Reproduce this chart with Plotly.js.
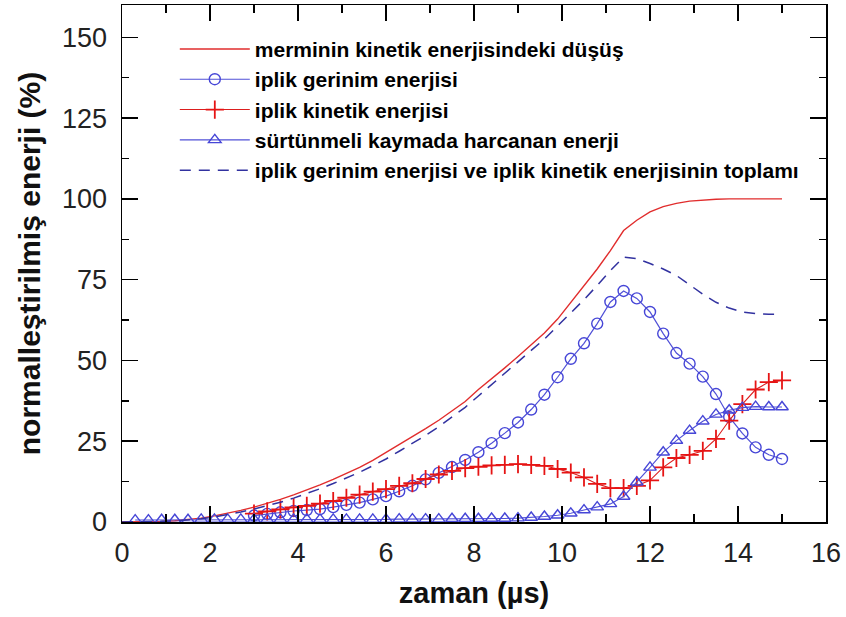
<!DOCTYPE html>
<html>
<head>
<meta charset="utf-8">
<script src="https://cdn.plot.ly/plotly-3.0.1.min.js"></script>
<style>
  html, body { margin: 0; padding: 0; background: #fff; }
  #chart { width: 846px; height: 617px; }
</style>
</head>
<body>
<div id="chart"></div>
<script>
// time samples (µs)
const tGrid = [0, 0.3, 0.6, 0.9, 1.2, 1.5, 1.8, 2.1, 2.4, 2.7,
               3.0, 3.3, 3.6, 3.9, 4.2, 4.5, 4.8, 5.1, 5.4, 5.7,
               6.0, 6.3, 6.6, 6.9, 7.2, 7.5, 7.8, 8.1, 8.4, 8.7,
               9.0, 9.3, 9.6, 9.9, 10.2, 10.5, 10.8, 11.1, 11.4, 11.7,
               12.0, 12.3, 12.6, 12.9, 13.2, 13.5, 13.8, 14.1, 14.4, 14.7,
               15.0];

// drop in projectile kinetic energy (%), on tGrid
const mermiKinetikDusus = [0, 0, 0.1, 0.2, 0.4, 0.7, 1.2, 1.9, 2.7, 3.6,
                           4.6, 5.7, 7.0, 8.4, 9.9, 11.5, 13.2, 15.0, 16.9, 19.1,
                           21.5, 24.0, 26.4, 28.9, 31.5, 34.3, 37.3, 41.0, 44.3, 47.7,
                           51.2, 54.8, 58.5, 62.8, 68.0, 73.0, 78.3, 84.0, 90.2, 93.4,
                           96.0, 97.6, 98.6, 99.3, 99.7, 99.9, 100, 100, 100, 100,
                           100];

// strain + kinetic energy of the yarns (%), on tGrid
const toplamEnerji = [0, 0, 0.1, 0.2, 0.3, 0.6, 1.0, 1.6, 2.3, 3.1,
                      4.0, 5.0, 6.1, 7.4, 8.8, 10.3, 11.9, 13.6, 15.4, 17.4,
                      19.5, 21.9, 24.3, 26.8, 29.5, 32.4, 35.5, 39.0, 42.6, 46.1,
                      49.6, 53.1, 56.6, 60.6, 64.6, 68.8, 73.2, 77.8, 82.0, 81.5,
                      80.0, 78.3, 76.3, 73.3, 70.5, 68.0, 66.2, 65.0, 64.5, 64.3,
                      64.3];

// yarn strain energy (%), from t = 3.0 µs
const gerinimEnerji = [2.0, 2.5, 3.0, 3.4, 3.7, 4.0, 4.6, 5.3, 6.0, 7.0,
                       8.0, 9.5, 11.2, 13.2, 15.2, 17.0, 19.2, 21.6, 24.4, 27.5,
                       30.8, 34.8, 39.4, 44.8, 50.5, 55.3, 61.4, 68.1, 71.5, 69.2,
                       65.0, 58.3, 52.3, 49.0, 45.0, 39.6, 32.5, 27.4, 23.1, 20.8,
                       19.5];

// yarn kinetic energy (%), from t = 3.0 µs
const kinetikEnerji = [2.6, 3.3, 3.9, 4.5, 5.0, 5.7, 6.5, 7.5, 8.5, 9.4,
                       10.2, 11.2, 12.0, 13.3, 14.7, 15.8, 16.7, 17.1, 17.5, 17.7,
                       17.9, 17.7, 17.4, 16.4, 15.3, 13.8, 11.8, 10.5, 10.5, 11.2,
                       12.9, 16.9, 19.8, 20.8, 22.0, 25.7, 31.4, 36.5, 41.0, 43.3,
                       43.8];

// energy dissipated by frictional sliding (%), from t = 0.3 µs
const surtunmeEnerji = [0.6, 0.6, 0.7, 0.7, 0.7, 0.8, 0.8, 0.8, 0.8, 0.8,
                        0.8, 0.8, 0.8, 0.8, 0.8, 0.8, 0.8, 0.8, 0.8, 0.8,
                        0.9, 0.9, 0.9, 0.9, 1.0, 1.0, 1.0, 1.1, 1.1, 1.2,
                        1.4, 1.7, 2.1, 2.7, 3.7, 4.6, 5.6, 7.9, 12.3, 16.9,
                        21.6, 25.2, 28.3, 31.2, 33.3, 34.6, 35.4, 35.7, 35.6, 35.6];

const seriesNames = [
  'merminin kinetik enerjisindeki düşüş',
  'iplik gerinim enerjisi',
  'iplik kinetik enerjisi',
  'sürtünmeli kaymada harcanan enerji',
  'iplik gerinim enerjisi ve iplik kinetik enerjisinin toplamı'
];

const tLate = tGrid.slice(10);
const tSlide = tGrid.slice(1);

const traces = [
  {
    x: tGrid, y: mermiKinetikDusus, name: seriesNames[0], legendgroup: 'g1',
    mode: 'lines', line: { color: 'rgb(225,45,45)', width: 1.4 }
  },
  {
    x: tLate, y: gerinimEnerji, name: seriesNames[1], legendgroup: 'g2',
    mode: 'lines+markers', cliponaxis: false,
    line: { color: 'rgb(80,80,215)', width: 1.2 },
    marker: { symbol: 'circle-open', size: 11, color: 'rgb(70,70,215)', line: { width: 1.4 } }
  },
  {
    x: tLate, y: kinetikEnerji, name: seriesNames[2], legendgroup: 'g3',
    mode: 'lines+markers', cliponaxis: false,
    line: { color: 'rgb(220,30,30)', width: 1.1 },
    marker: { symbol: 'cross-thin-open', size: 13, color: 'rgb(230,20,20)', line: { width: 1.8, color: 'rgb(230,20,20)' } }
  },
  {
    x: tSlide, y: surtunmeEnerji, name: seriesNames[3], legendgroup: 'g4',
    mode: 'lines+markers', cliponaxis: false,
    line: { color: 'rgb(80,80,215)', width: 1.1 },
    marker: { symbol: 'triangle-up-open', size: 11, color: 'rgb(70,70,215)', line: { width: 1.4 } }
  },
  {
    x: tGrid, y: toplamEnerji, name: seriesNames[4], legendgroup: 'g5',
    mode: 'lines', line: { color: 'rgb(50,50,160)', width: 1.5, dash: '11px,8px' }
  }
];

const tickFont = { family: 'Liberation Sans, Arial, sans-serif', size: 27, color: '#222' };
const xTitleFont = { family: 'Liberation Sans, Arial, sans-serif', size: 29, color: '#111', weight: 'bold' };
const yTitleFont = { family: 'Liberation Sans, Arial, sans-serif', size: 30, color: '#111', weight: 'bold' };

const layout = {
  width: 846, height: 617,
  margin: { l: 122, r: 20, t: 5, b: 95 },
  paper_bgcolor: '#fff', plot_bgcolor: '#fff',
  showlegend: true,
  legend: {
    x: 0.075, y: 0.954, xanchor: 'left', yanchor: 'top',
    bgcolor: 'rgba(0,0,0,0)', borderwidth: 0,
    traceorder: 'grouped', tracegroupgap: 0, itemwidth: 70,
    font: { family: 'Liberation Sans, Arial, sans-serif', size: 21, color: '#000', weight: 'bold' }
  },
  xaxis: {
    range: [0, 16], tick0: 0, dtick: 2,
    ticks: 'inside', ticklen: 16, tickwidth: 1.5, tickcolor: '#000',
    showline: true, linecolor: '#000', linewidth: 1.5, mirror: 'ticks',
    showgrid: false, zeroline: false,
    minor: { dtick: 1, ticks: 'inside', ticklen: 8, tickwidth: 1.5, tickcolor: '#000', showgrid: false },
    tickfont: tickFont, ticklabelstandoff: 6,
    title: { text: 'zaman (µs)', font: xTitleFont, standoff: 16 }
  },
  yaxis: {
    range: [0, 160], tick0: 0, dtick: 25,
    ticks: 'inside', ticklen: 16, tickwidth: 1.5, tickcolor: '#000',
    showline: true, linecolor: '#000', linewidth: 1.5, mirror: 'ticks',
    showgrid: false, zeroline: false,
    minor: { dtick: 12.5, ticks: 'inside', ticklen: 7, tickwidth: 1.5, tickcolor: '#000', showgrid: false },
    tickfont: tickFont, ticklabelstandoff: 8,
    title: { text: 'normalleştirilmiş enerji (%)', font: yTitleFont, standoff: 12 }
  }
};

Plotly.newPlot('chart', traces, layout, { staticPlot: true, displayModeBar: false });
</script>
</body>
</html>
